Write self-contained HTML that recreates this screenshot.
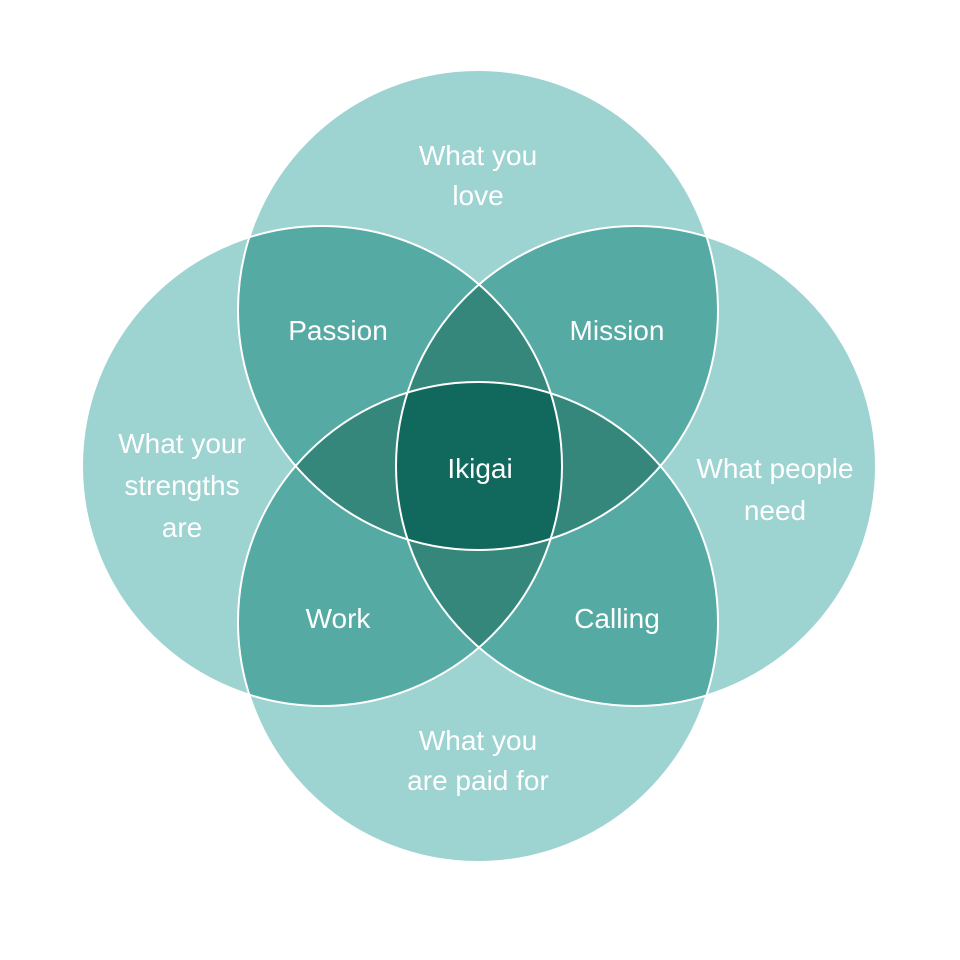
<!DOCTYPE html>
<html><head><meta charset="utf-8"><style>
html,body{margin:0;padding:0;background:#fff;}
svg{display:block}
text{font-family:"Liberation Sans",sans-serif;fill:#fff;font-size:28px;text-anchor:middle}
</style></head><body>
<svg width="960" height="960" viewBox="0 0 960 960" xmlns="http://www.w3.org/2000/svg">
<defs>
<clipPath id="T"><circle cx="478" cy="310" r="240"/></clipPath>
<clipPath id="B"><circle cx="478" cy="622" r="240"/></clipPath>
<clipPath id="L"><circle cx="322" cy="466" r="240"/></clipPath>
<clipPath id="R"><circle cx="636" cy="466" r="240"/></clipPath>
</defs>
<rect width="960" height="960" fill="#fff"/>
<g fill="#9dd3d1">
<circle cx="478" cy="310" r="240"/>
<circle cx="478" cy="622" r="240"/>
<circle cx="322" cy="466" r="240"/>
<circle cx="636" cy="466" r="240"/>
</g>
<g fill="#55aaa3">
<g clip-path="url(#T)"><circle cx="322" cy="466" r="240"/><circle cx="636" cy="466" r="240"/><circle cx="478" cy="622" r="240"/></g>
<g clip-path="url(#B)"><circle cx="322" cy="466" r="240"/><circle cx="636" cy="466" r="240"/></g>
<g clip-path="url(#L)"><circle cx="636" cy="466" r="240"/></g>
</g>
<g fill="#35877b">
<g clip-path="url(#T)"><g clip-path="url(#L)"><circle cx="636" cy="466" r="240"/><circle cx="478" cy="622" r="240"/></g></g>
<g clip-path="url(#T)"><g clip-path="url(#R)"><circle cx="478" cy="622" r="240"/></g></g>
<g clip-path="url(#B)"><g clip-path="url(#L)"><circle cx="636" cy="466" r="240"/></g></g>
</g>
<g fill="#10695c">
<g clip-path="url(#T)"><g clip-path="url(#L)"><g clip-path="url(#R)"><circle cx="478" cy="622" r="240"/></g></g></g>
</g>
<g fill="none" stroke="#fff" stroke-width="2">
<circle cx="478" cy="310" r="240"/>
<circle cx="478" cy="622" r="240"/>
<circle cx="322" cy="466" r="240"/>
<circle cx="636" cy="466" r="240"/>
</g>
<text x="478" y="165">What you</text>
<text x="478" y="205">love</text>
<text x="338" y="340">Passion</text>
<text x="617" y="340">Mission</text>
<text x="182" y="453">What your</text>
<text x="182" y="495">strengths</text>
<text x="182" y="537">are</text>
<text x="480" y="478">Ikigai</text>
<text x="775" y="478">What people</text>
<text x="775" y="520">need</text>
<text x="338" y="628">Work</text>
<text x="617" y="628">Calling</text>
<text x="478" y="750">What you</text>
<text x="478" y="790">are paid for</text>
</svg>
</body></html>
